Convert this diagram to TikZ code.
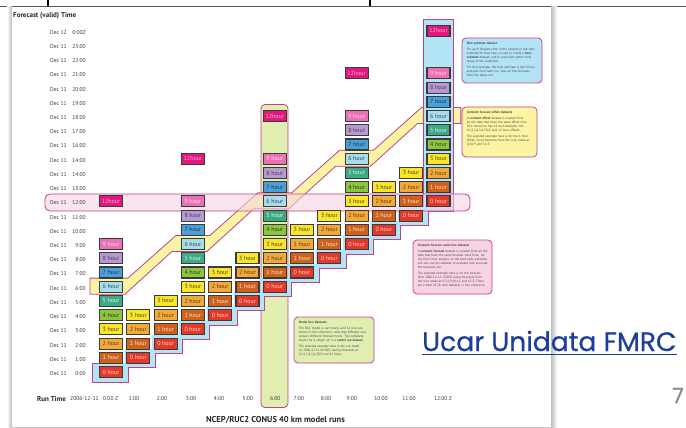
\documentclass[tikz,border=0pt]{standalone}
\usepackage{fontspec}
\setmainfont{PT Sans}
\newfontfamily\slidefont[FakeBold=0.6]{Poppins}
\usetikzlibrary{calc}

% hour colours (fill / text)
\definecolor{h0}{HTML}{E4382B}  \definecolor{t0}{HTML}{FCD9CC}
\definecolor{h1}{HTML}{D0611D}  \definecolor{t1}{HTML}{FBE3CF}
\definecolor{h2}{HTML}{F2A93B}  \definecolor{t2}{HTML}{5A3A10}
\definecolor{h3}{HTML}{F9E52B}  \definecolor{t3}{HTML}{4A4420}
\definecolor{h4}{HTML}{8CC63F}  \definecolor{t4}{HTML}{2E3A1A}
\definecolor{h5}{HTML}{3DAA86}  \definecolor{t5}{HTML}{E6F5EE}
\definecolor{h6}{HTML}{A8DCEF}  \definecolor{t6}{HTML}{3A4A55}
\definecolor{h7}{HTML}{4A9FDA}  \definecolor{t7}{HTML}{1E3550}
\definecolor{h8}{HTML}{B59AD0}  \definecolor{t8}{HTML}{4A3A5A}
\definecolor{h9}{HTML}{EC70B3}  \definecolor{t9}{HTML}{FDE6F2}
\definecolor{h12}{HTML}{E2177E} \definecolor{t12}{HTML}{F9B6D6}
\definecolor{boxedge}{HTML}{3B3B3B}
% highlight colours
\definecolor{hlmag}{HTML}{C4408A}
\definecolor{runfill}{HTML}{E0EEB2}
\definecolor{validfill}{HTML}{F8D3E3}
\definecolor{offsetfill}{HTML}{FAF4A3}
\definecolor{bestfill}{HTML}{B3E4F5}
% text colours
\definecolor{labgray}{HTML}{3A3A3A}
\definecolor{bodygray}{HTML}{444444}
\definecolor{rulegray}{HTML}{555555}
\definecolor{ucarblue}{HTML}{1C3E9A}
\definecolor{pagegray}{HTML}{8A8A8A}

\begin{document}
\begin{tikzpicture}[x=1pt, y=-1pt,
  hl/.style={draw=hlmag, line width=0.8pt},
  hbox/.style={draw=boxedge, line width=1.1pt, minimum width=23pt, minimum height=11pt,
    inner sep=0pt, font=\fontsize{6}{6}\selectfont},
  rowlab/.style={font=\fontsize{5.6}{6}\selectfont, text=labgray, inner sep=0pt},
  tbox/.style={hl, rounded corners=4pt, inner sep=0pt},
  tbody/.style={text=bodygray, inner sep=0pt, align=left, font=\fontsize{3.2}{4}\selectfont},
]
\useasboundingbox (0,0) rectangle (686,428);
\fill[white] (0,0) rectangle (686,428);

% rule along the top of the slide
\draw[rulegray, line width=1.3pt] (0,6.5) -- (686,6.5);
\draw[black, line width=1.6pt] (48,0) -- (48,6.5);
\draw[black, line width=1.6pt] (370,0) -- (370,6.5);

% sheet with a soft shadow
\shade[left color=white, right color=gray!55] (7,7) rectangle (12,428);
\shade[left color=gray!50, right color=white] (551,7) rectangle (557,428);
\shade[top color=gray!45, bottom color=white] (12,427) rectangle (551,428);
\fill[white] (12,7) rectangle (551,427);

% model run dataset (06 Z run)
\draw[hl, fill=runfill, rounded corners=4pt] (261,104.5) rectangle (288,407.5);

\begin{scope}[shift={(111pt,-372pt)}, x=27.29pt, y=14.22pt]
  % constant offset band (6 hour forecasts)
  \draw[hl, fill=offsetfill] (-0.77,6.6) -- (0.62,6.6) -- (2.38,9.6) -- (3.62,9.6)
    -- (5.38,12.6) -- (6.62,12.6) -- (8.38,15.6) -- (9.62,15.6) -- (11.38,18.6)
    -- (12.82,18.6) -- (12.82,17.47) -- (11.23,17.47) -- (9.51,14.47) -- (8.23,14.47)
    -- (6.51,11.47) -- (5.23,11.47) -- (3.51,8.47) -- (2.23,8.47) -- (0.51,5.47)
    -- (-0.77,5.47) -- cycle;
  % best estimate: 0 hour staircase plus the latest run
  \fill[bestfill] (-0.67,0.61) -- (-0.67,-0.7)
    \foreach \c in {0,...,11} { -- (\c+0.62,\c-0.7) -- (\c+0.62,\c+0.3) }
    -- (12.55,11.3) -- (12.55,24.82) -- (11.45,24.82) -- (11.45,11.61)
    \foreach \c in {11,...,1} { -- (\c-0.5,\c+0.61) -- (\c-0.5,\c-0.39) } -- cycle;
  \draw[hl] (-0.45,0.61) -- (-0.67,0.61) -- (-0.67,-0.7)
    \foreach \c in {0,...,11} { -- (\c+0.62,\c-0.7) -- (\c+0.62,\c+0.3) }
    -- (12.55,11.3) -- (12.55,24.82) -- (11.45,24.82) -- (11.45,11.61);
\end{scope}

% constant valid time band (12:00)
\draw[hl, fill=validfill, fill opacity=0.6, rounded corners=5pt] (45,194) rectangle (470,211);

% forecast boxes: run c, forecast hour h
\begin{scope}[shift={(111pt,-372pt)}, x=27.29pt, y=14.22pt]
  \foreach \c in {0,...,12} {
    \pgfmathtruncatemacro\runmod{mod(\c,3)}
    \ifnum\runmod=0 \def\hourlist{0,1,2,3,4,5,6,7,8,9,12}\else\def\hourlist{0,1,2,3}\fi
    \foreach \h in \hourlist {
      \node[hbox, fill=h\h, text=t\h] (r\c-\h) at (\c,\c+\h)
        {\ifnum\h=12 12hour\else\h\ hour\fi};
    }
  }
\end{scope}

% axis titles
\node[anchor=west, inner sep=0pt, font=\bfseries\fontsize{7}{8}\selectfont, text=black!85] (ytitle)
  at (13,16) {Forecast (valid) Time};
\foreach \k/\d/\t in {24/12/0:00Z, 23/11/23:00, 22/11/22:00, 21/11/21:00, 20/11/20:00,
    19/11/19:00, 18/11/18:00, 17/11/17:00, 16/11/16:00, 15/11/14:00, 14/11/14:00,
    13/11/13:00, 12/11/12:00, 11/11/11:00, 10/11/10:00, 9/11/9:00, 8/11/8:00,
    7/11/7:00, 6/11/6:00, 5/11/5:00, 4/11/4:00, 3/11/3:00, 2/11/2:00, 1/11/1:00, 0/11/0:00} {
  \node[rowlab, anchor=west] (day\k) at (50,{373.5-14.22*\k}) {Dec \d};
  \node[rowlab, anchor=east] (hr\k) at (86,{373.5-14.22*\k}) {\t};
}

\node[anchor=west, inner sep=0pt, font=\bfseries\fontsize{7}{8}\selectfont, text=black!85] (xtitle)
  at (37,399) {Run Time};
\node[rowlab, anchor=west] (rundate) at (70,399) {2006-12-11};
\node[rowlab, anchor=west] (run0) at (103,399) {0:00 Z};
\foreach \x/\t [count=\i] in {134/1:00, 162/2:00, 191/3:00, 219/4:00, 247.7/5:00, 275.3/6:00,
    298.7/7:00, 326/8:00, 351.7/9:00, 381/10:00, 409/11:00} {
  \node[rowlab] (run\i) at (\x,399) {\t};
}
\node[rowlab] (run12) at (443,399) {12:00 Z};

\node[inner sep=0pt, font=\bfseries\fontsize{8.5}{10}\selectfont, text=black!85] (caption)
  at (275.5,420) {NCEP/RUC2 CONUS 40 km model runs};

% explanation boxes
\node[tbox, fill=bestfill, minimum width=80pt, minimum height=45pt] (best) at (502,60.5) {};
\node[tbody, anchor=north west, text width=70pt] (bestT) at ([xshift=5pt,yshift=-4pt]best.north west)
  {\textbf{Best estimate dataset}\par\vspace{2pt}
   For each forecast time in the collection, the best estimate for that hour is used to create a
   \textbf{best estimate} dataset, which covers the entire time range of the collection.\par\vspace{2pt}
   For this example, the best estimate is the 0 hour analyses from each run, plus all the
   forecasts from the latest run.};

\node[tbox, fill=offsetfill, minimum width=75pt, minimum height=50pt] (offset) at (499.5,132) {};
\node[tbody, anchor=north west, text width=66pt] (offsetT) at ([xshift=5pt,yshift=-4pt]offset.north west)
  {\textbf{Constant forecast offset datasets}\par\vspace{2pt}
   A \textbf{constant offset} dataset is created from all the data that have the same offset time.
   This collection has 11 such datasets: the 0,1,2,3,4,5,6,7,8,9, and 12 hour offsets.\par\vspace{2pt}
   The selected example here is for the 6 hour offset, using forecasts from the runs made at
   0,3,6,9 and 12 Z.};

\node[tbox, fill=validfill, minimum width=79pt, minimum height=54pt] (valid) at (452.5,267) {};
\node[tbody, anchor=north west, text width=70pt] (validT) at ([xshift=5pt,yshift=-4pt]valid.north west)
  {\textbf{Constant forecast valid time datasets}\par\vspace{2pt}
   A \textbf{constant forecast} dataset is created from all the data that have the same forecast
   valid time. Using the 0 hour analysis as the best state estimate, one can use this dataset to
   evaluate how accurate the forecasts are.\par\vspace{2pt}
   The selected example here is for the forecast time 2006-12-11 12:00Z, using forecasts from the
   runs made at 0,3,6,9,10,11, and 12 Z. There are a total of 24 such datasets in this collection.};

\node[tbox, fill=runfill, minimum width=80pt, minimum height=46pt] (modelrun) at (334,340) {};
\node[tbody, anchor=north west, text width=70pt] (modelrunT) at ([xshift=5pt,yshift=-4pt]modelrun.north west)
  {\textbf{Model Run Datasets}\par\vspace{2pt}
   The RUC model is run hourly, and 12 runs are shown in this collection; note that different runs
   contain different forecast hours. The complete results for a single run is a
   \textbf{model run dataset}.\par\vspace{2pt}
   The selected example here is the run made on 2006-12-11 06:00Z, having forecasts at
   0,1,2,3,4,5,6,7,8,9 and 12 hours.};

% slide link and page number
\node[anchor=base west, inner sep=0pt, font=\slidefont\fontsize{26.6}{30}\selectfont, text=ucarblue]
  (fmrc) at (422,351) {Ucar Unidata FMRC};
\draw[ucarblue, line width=1.4pt] ([yshift=-3.2pt]fmrc.base west) -- ([yshift=-3.2pt]fmrc.base east);
\node[anchor=base, inner sep=0pt, font=\slidefont\fontsize{21}{24}\selectfont, text=pagegray]
  (pagenum) at (678,403) {7};
\end{tikzpicture}
\end{document}
